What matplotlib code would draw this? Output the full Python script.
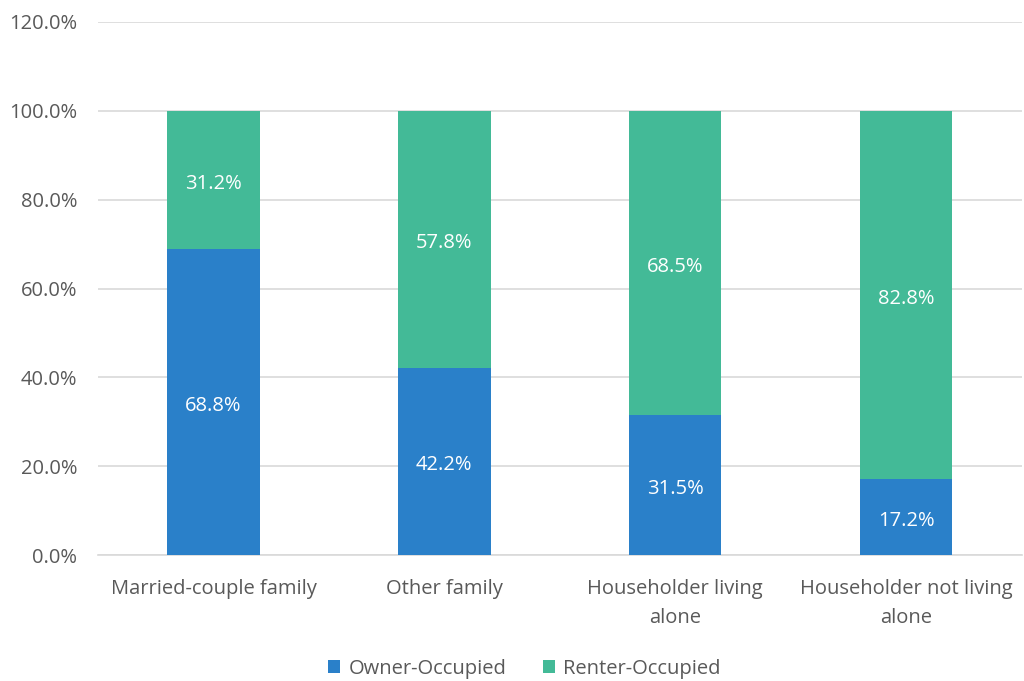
import matplotlib
matplotlib.use("Agg")
import matplotlib.pyplot as plt
import numpy as np

categories = ["Married-couple family", "Other family", "Householder living\nalone", "Householder not living\nalone"]
owner = [68.8, 42.2, 31.5, 17.2]
renter = [31.2, 57.8, 68.5, 82.8]
series_names = ["Owner-Occupied", "Renter-Occupied"]
colors = ["#2A80C9", "#43BA97"]

plt.rcParams['font.family'] = ['Open Sans', 'DejaVu Sans']

fig = plt.figure(figsize=(10.24, 6.81), dpi=100)
ax = fig.add_axes([0.0957, 0.185, 0.902, 0.7827])

fs = 14.5
x = np.arange(len(categories))
w = 0.40
b1 = ax.bar(x, owner, w, color=colors[0], label=series_names[0], zorder=3)
b2 = ax.bar(x, renter, w, bottom=owner, color=colors[1], label=series_names[1], zorder=3)

for i in range(len(categories)):
    ax.annotate(f"{owner[i]:.1f}%", (x[i], owner[i] / 2), xytext=(0, -3), textcoords="offset points",
                ha="center", va="center", color="white", fontsize=fs, zorder=4)
    ax.annotate(f"{renter[i]:.1f}%", (x[i], owner[i] + renter[i] / 2), xytext=(0, -3),
                textcoords="offset points", ha="center", va="center", color="white", fontsize=fs, zorder=4)

ax.set_xlim(-0.5, len(categories) - 0.5)
ax.set_ylim(0, 120)
ax.set_yticks(np.arange(0, 121, 20))
ax.set_yticklabels([f"{v:.1f}%" for v in np.arange(0, 121, 20)])
ax.set_xticks(x)
ax.set_xticklabels(categories, linespacing=1.6)
ax.tick_params(axis="both", length=0, colors="#595959", labelsize=fs)
ax.tick_params(axis="x", pad=17.5)
ax.tick_params(axis="y", pad=15)
ax.grid(axis="y", color="#D9D9D9", linewidth=1.2, zorder=0)
for s in ["top", "right", "left"]:
    ax.spines[s].set_visible(False)
ax.spines["bottom"].set_color("#D9D9D9")
ax.spines["bottom"].set_linewidth(1.2)

leg = fig.legend(handles=[b1, b2], labels=series_names, loc="center", bbox_to_anchor=(0.512, 0.018),
                 ncol=2, frameon=False, fontsize=fs, handlelength=0.6, handleheight=0.6,
                 columnspacing=1.8, handletextpad=0.4)
for t in leg.get_texts():
    t.set_color("#595959")

fig.savefig("out.png", dpi=100)
